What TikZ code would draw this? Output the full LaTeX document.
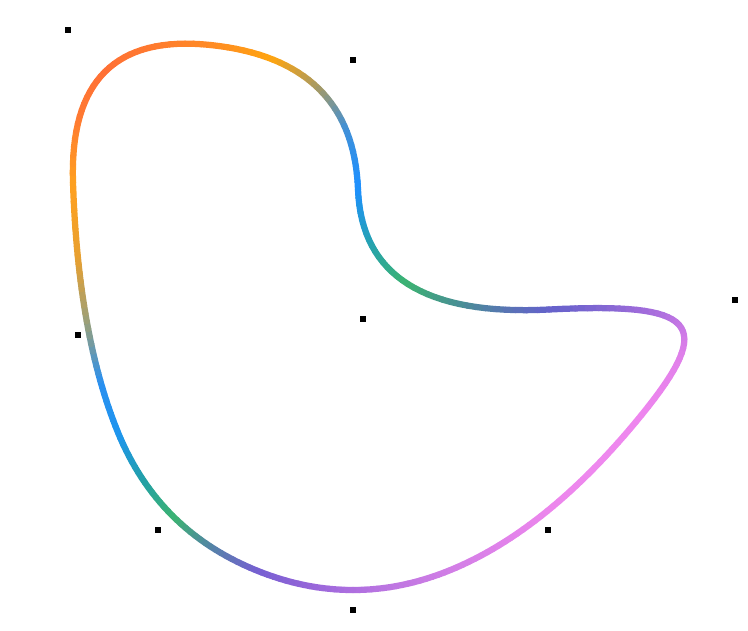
\documentclass[tikz,border=0pt]{standalone}
\usepackage{tikz}
\usetikzlibrary{calc, positioning}
\usepackage{xcolor}

% colour stops along the curve, four per segment
\definecolor{st0}{HTML}{FFA020}
\definecolor{st1}{HTML}{FF7A32}
\definecolor{st2}{HTML}{FF7035}
\definecolor{st3}{HTML}{FF7830}
\definecolor{st4}{HTML}{FF8A25}
\definecolor{st5}{HTML}{FFA510}
\definecolor{st6}{HTML}{A89A62}
\definecolor{st7}{HTML}{4090D8}
\definecolor{st8}{HTML}{1E90FF}
\definecolor{st9}{HTML}{25A2B0}
\definecolor{st10}{HTML}{3CB371}
\definecolor{st11}{HTML}{4A8C98}
\definecolor{st12}{HTML}{6462CA}
\definecolor{st13}{HTML}{9A6AD9}
\definecolor{st14}{HTML}{C276E4}
\definecolor{st15}{HTML}{E080EA}
\definecolor{st16}{HTML}{EE86EE}
\definecolor{st17}{HTML}{EE88EE}
\definecolor{st18}{HTML}{EC86EC}
\definecolor{st19}{HTML}{E082EA}
\definecolor{st20}{HTML}{D27EE6}
\definecolor{st21}{HTML}{C278E2}
\definecolor{st22}{HTML}{B070E0}
\definecolor{st23}{HTML}{9465D8}
\definecolor{st24}{HTML}{7660D2}
\definecolor{st25}{HTML}{5582A8}
\definecolor{st26}{HTML}{3CB371}
\definecolor{st27}{HTML}{22A0A8}
\definecolor{st28}{HTML}{1E95EE}
\definecolor{st29}{HTML}{2A90F0}
\definecolor{st30}{HTML}{98A07C}
\definecolor{st31}{HTML}{E8A030}

\tikzstyle{ctrl}   = [rectangle, fill=black, minimum size=0.12cm, inner sep=0pt]
\tikzstyle{piece}  = [line width=0.125cm, line cap=round]

\begin{document}
\begin{tikzpicture}[x=0.02cm, y=-0.02cm]
\useasboundingbox (0,0) rectangle (748,630);

\node[ctrl] (CP0) at (68,30)   {};
\node[ctrl] (CP1) at (353,60)  {};
\node[ctrl] (CP2) at (363,319) {};
\node[ctrl] (CP3) at (735,300) {};
\node[ctrl] (CP4) at (548,530) {};
\node[ctrl] (CP5) at (353,610) {};
\node[ctrl] (CP6) at (158,530) {};
\node[ctrl] (CP7) at (78,335)  {};

% segment ends: midpoints of the control polygon
\coordinate (M0) at ($(CP7.center)!0.5!(CP0.center)$);
\coordinate (M1) at ($(CP0.center)!0.5!(CP1.center)$);
\coordinate (M2) at ($(CP1.center)!0.5!(CP2.center)$);
\coordinate (M3) at ($(CP2.center)!0.5!(CP3.center)$);
\coordinate (M4) at ($(CP3.center)!0.5!(CP4.center)$);
\coordinate (M5) at ($(CP4.center)!0.5!(CP5.center)$);
\coordinate (M6) at ($(CP5.center)!0.5!(CP6.center)$);
\coordinate (M7) at ($(CP6.center)!0.5!(CP7.center)$);

\foreach \seg/\sa/\cq/\en/\kk in {0/M0/CP0/M1/0.6667, 1/M1/CP1/M2/0.6667,
    2/M2/CP2/M3/0.6667, 3/M3/CP3/M4/0.8, 4/M4/CP4/M5/0.6667,
    5/M5/CP5/M6/0.6667, 6/M6/CP6/M7/0.6667, 7/M7/CP7/M0/0.6667} {
  \coordinate (HA) at ($(\sa)!\kk!(\cq.center)$);
  \coordinate (HB) at ($(\en)!\kk!(\cq.center)$);
  \coordinate (prev) at (\sa);
  \foreach \i in {1,...,32} {
    \pgfmathsetmacro\tm{\i/32}
    \coordinate (a1) at ($(\sa)!\tm!(HA)$);
    \coordinate (a2) at ($(HA)!\tm!(HB)$);
    \coordinate (a3) at ($(HB)!\tm!(\en)$);
    \coordinate (b1) at ($(a1)!\tm!(a2)$);
    \coordinate (b2) at ($(a2)!\tm!(a3)$);
    \coordinate (cur) at ($(b1)!\tm!(b2)$);
    \pgfmathtruncatemacro\cidx{4*\seg + floor((\i-0.5)/8)}
    \pgfmathtruncatemacro\cnext{mod(\cidx+1,32)}
    \pgfmathsetmacro\wt{100*((\i-0.5)/8 - floor((\i-0.5)/8))}
    \colorlet{pc}{st\cnext!\wt!st\cidx}
    \draw[piece, pc] (prev) -- (cur);
    \coordinate (prev) at (cur);
  }
}

\end{tikzpicture}
\end{document}
